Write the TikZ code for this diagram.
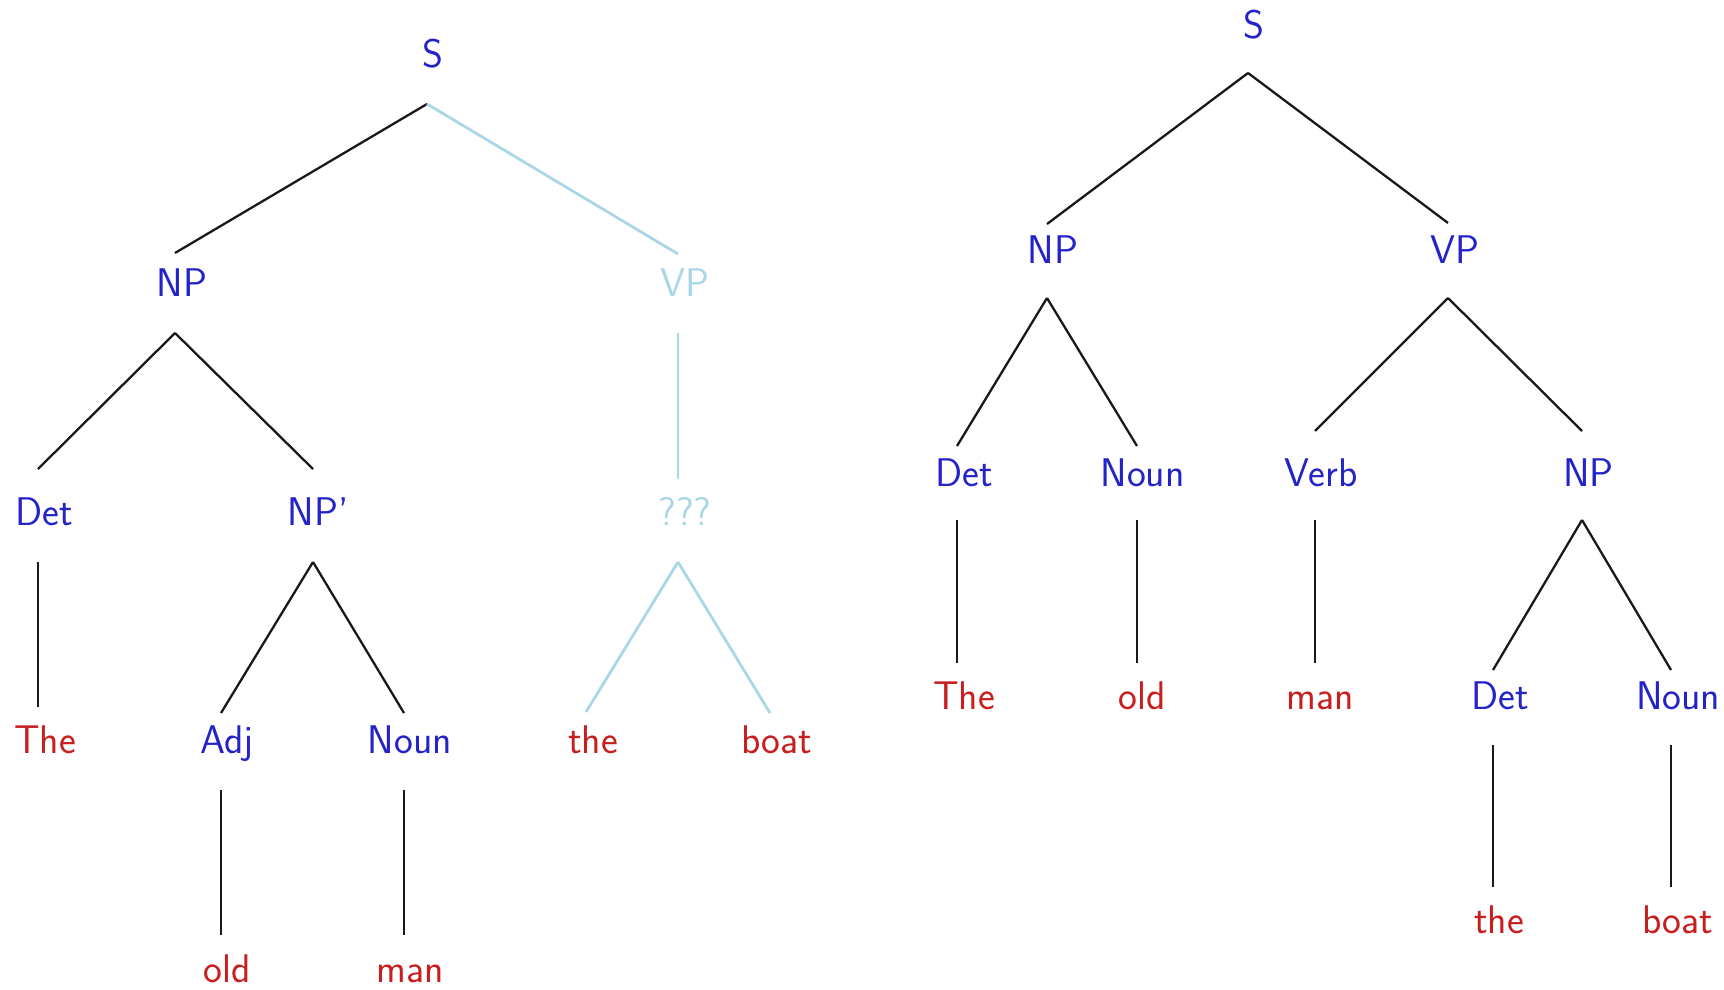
\documentclass[tikz,border=0pt]{standalone}
\usepackage{fontspec}
\definecolor{catblue}{RGB}{35,35,200}
\definecolor{wordred}{RGB}{200,30,30}
\definecolor{faded}{RGB}{170,214,230}
\definecolor{edgeink}{RGB}{25,25,25}
\tikzset{
  lab/.style={inner sep=0pt, anchor=base, font=\sffamily\fontsize{40}{44}\selectfont},
  cat/.style={lab, text=catblue},
  word/.style={lab, text=wordred},
  ghost/.style={lab, text=faded},
  br/.style={draw=edgeink, line width=2.3pt},
  brfaded/.style={draw=faded, line width=2.8pt},
}
\begin{document}
\begin{tikzpicture}[x=1pt, y=-1pt]
\useasboundingbox (0,0) rectangle (1724,990);
% ---------- left tree ----------
\node[cat]   (lS)    at (433,67)  {S};
\node[cat]   (lNP)   at (182,296) {NP};
\node[ghost] (lVP)   at (685,296) {VP};
\node[cat]   (lDet)  at (44.5,525) {Det};
\node[cat]   (lNPp)  at (318,525) {NP'};
\node[ghost] (lQ)    at (685,525) {???};
\node[word]  (lThe)  at (45,753)  {The};
\node[cat]   (lAdj)  at (227,753) {Adj};
\node[cat]   (lNoun) at (410,753) {Noun};
\node[word]  (lthe)  at (593,753) {the};
\node[word]  (lboat) at (777,753) {boat};
\node[word]  (lold)  at (227,982) {old};
\node[word]  (lman)  at (410,982) {man};
\draw[br] ([shift={(-6,37)}]lS.base) -- ([shift={(-7,-43)}]lNP.base);
\draw[brfaded] ([shift={(-6,37)}]lS.base) -- ([shift={(-7,-42)}]lVP.base);
\draw[br] ([shift={(-7,37)}]lNP.base) -- ([shift={(-6.5,-56)}]lDet.base);
\draw[br] ([shift={(-7,37)}]lNP.base) -- ([shift={(-5,-56)}]lNPp.base);
\draw[brfaded] ([shift={(-7,37)}]lVP.base) -- ([shift={(-7,-46)}]lQ.base);
\draw[br] ([shift={(-6.5,37)}]lDet.base) -- ([shift={(-7,-46)}]lThe.base);
\draw[br] ([shift={(-5,37)}]lNPp.base) -- ([shift={(-6,-40)}]lAdj.base);
\draw[br] ([shift={(-5,37)}]lNPp.base) -- ([shift={(-6,-40)}]lNoun.base);
\draw[brfaded] ([shift={(-7,37)}]lQ.base) -- ([shift={(-7,-41)}]lthe.base);
\draw[brfaded] ([shift={(-7,37)}]lQ.base) -- ([shift={(-7,-40)}]lboat.base);
\draw[br] ([shift={(-6,37)}]lAdj.base) -- ([shift={(-6,-47)}]lold.base);
\draw[br] ([shift={(-6,37)}]lNoun.base) -- ([shift={(-6,-47)}]lman.base);
% ---------- right tree ----------
\node[cat]  (rS)     at (1254,39)   {S};
\node[cat]  (rNP)    at (1053,263)  {NP};
\node[cat]  (rVP)    at (1454.5,263) {VP};
\node[cat]  (rDet)   at (964,486)   {Det};
\node[cat]  (rNoun)  at (1142.5,486) {Noun};
\node[cat]  (rVerb)  at (1321,486)  {Verb};
\node[cat]  (rNPb)   at (1588.5,486) {NP};
\node[word] (rThe)   at (964,709)   {The};
\node[word] (rold)   at (1142,709)  {old};
\node[word] (rman)   at (1320,709)  {man};
\node[cat]  (rDetb)  at (1500,709)  {Det};
\node[cat]  (rNounb) at (1678,709)  {Noun};
\node[word] (rthe)   at (1499,933)  {the};
\node[word] (rboat)  at (1678,933)  {boat};
\draw[br] ([shift={(-6,34)}]rS.base) -- ([shift={(-6,-39)}]rNP.base);
\draw[br] ([shift={(-6,34)}]rS.base) -- ([shift={(-6.5,-40)}]rVP.base);
\draw[br] ([shift={(-6,35)}]rNP.base) -- ([shift={(-7,-40)}]rDet.base);
\draw[br] ([shift={(-6,35)}]rNP.base) -- ([shift={(-5.5,-40)}]rNoun.base);
\draw[br] ([shift={(-6.5,35)}]rVP.base) -- ([shift={(-6,-55)}]rVerb.base);
\draw[br] ([shift={(-6.5,35)}]rVP.base) -- ([shift={(-6.5,-55)}]rNPb.base);
\draw[br] ([shift={(-7,34)}]rDet.base) -- ([shift={(-7,-46)}]rThe.base);
\draw[br] ([shift={(-5.5,34)}]rNoun.base) -- ([shift={(-5,-46)}]rold.base);
\draw[br] ([shift={(-6,34)}]rVerb.base) -- ([shift={(-5,-46)}]rman.base);
\draw[br] ([shift={(-6.5,34)}]rNPb.base) -- ([shift={(-7,-39)}]rDetb.base);
\draw[br] ([shift={(-6.5,34)}]rNPb.base) -- ([shift={(-7,-39)}]rNounb.base);
\draw[br] ([shift={(-7,36)}]rDetb.base) -- ([shift={(-6,-46)}]rthe.base);
\draw[br] ([shift={(-7,36)}]rNounb.base) -- ([shift={(-7,-46)}]rboat.base);
\end{tikzpicture}
\end{document}
